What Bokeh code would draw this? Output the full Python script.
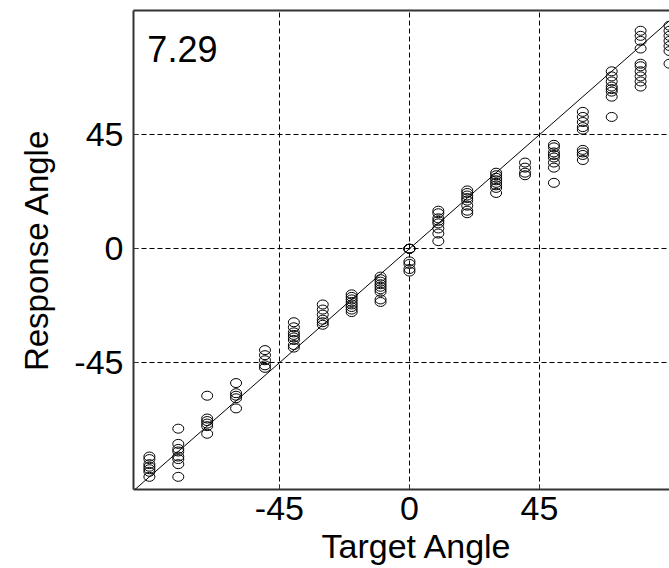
from bokeh.plotting import figure
from bokeh.models import Range1d, FixedTicker, LinearAxis, Label, Slope, ColumnDataSource, Title
from bokeh.embed import file_html
from bokeh.resources import INLINE

# ---- data ----
targets = [-90, -80, -70, -60, -50, -40, -30, -20, -10, 0, 10, 20, 30, 40, 50, 60, 70, 80, 90]
resp_m90 = [-82, -83, -85, -86, -87, -88, -90]
resp_m80 = [-71, -77, -79, -80, -82, -83, -85, -90]
resp_m70 = [-58, -67, -68, -69, -70, -73]
resp_m60 = [-53, -57, -58, -59, -63]
resp_m50 = [-40, -42, -44, -46, -47]
resp_m40 = [-29, -31, -33, -34, -35, -36, -38, -39]
resp_m30 = [-22, -24, -26, -28, -29, -30]
resp_m20 = [-18, -19, -20, -21, -22, -23, -24, -25]
resp_m10 = [-11, -12, -13, -14, -15, -16, -17, -20, -21]
resp_0 = [0, 0, 0, 0, -5, -6, -8, -9]
resp_p10 = [15, 14, 12, 11, 10, 8, 6, 3]
resp_p20 = [23, 22, 21, 20, 19, 17, 15, 14]
resp_p30 = [30, 29, 28, 27, 26, 25, 24, 22]
resp_p40 = [34, 32, 30, 29]
resp_p50 = [41, 40, 38, 37, 36, 34, 32, 26]
resp_p60 = [54, 52, 50, 48, 47, 39, 38, 37, 35]
resp_p70 = [70, 68, 66, 64, 63, 62, 60, 52]
resp_p80 = [86, 84, 82, 79, 73, 72, 70, 68, 66, 64]
resp_p90 = [88, 86, 84, 82, 80, 78, 73]
tick_values = [-45, 0, 45]
tick_labels = ["-45", "0", "45"]
score_text = "7.29"
x_title = "Target Angle"
y_title = "Response Angle"

responses = [resp_m90, resp_m80, resp_m70, resp_m60, resp_m50, resp_m40, resp_m30,
             resp_m20, resp_m10, resp_0, resp_p10, resp_p20, resp_p30, resp_p40,
             resp_p50, resp_p60, resp_p70, resp_p80, resp_p90]

xs, ys = [], []
for t, r in zip(targets, responses):
    xs += [t] * len(r)
    ys += r
src = ColumnDataSource(dict(x=xs, y=ys))

FONT = "Liberation Sans"
AX = "#333333"

p = figure(width=669, height=568, output_backend="svg", toolbar_location=None,
           x_range=Range1d(-95.5, 90), y_range=Range1d(-95, 94),
           min_border_left=133, min_border_right=0, min_border_top=10, min_border_bottom=79,
           y_axis_label=y_title)
p.outline_line_color = None
p.background_fill_color = "white"
p.border_fill_color = "white"

for ax in (p.xaxis[0], p.yaxis[0]):
    ax.ticker = FixedTicker(ticks=tick_values)
    ax.major_label_overrides = {v: s for v, s in zip(tick_values, tick_labels)}
    ax.major_tick_in = 5
    ax.major_tick_out = 0
    ax.minor_tick_line_color = None
    ax.axis_line_width = 2
    ax.axis_line_color = AX
    ax.major_tick_line_color = AX
    ax.major_tick_line_width = 1
    ax.major_label_text_font = FONT
    ax.major_label_text_font_size = "34px"
    ax.major_label_text_color = "black"
    ax.axis_label_text_font = FONT
    ax.axis_label_text_font_size = "33px"
    ax.axis_label_text_font_style = "normal"
    ax.axis_label_text_color = "black"

p.xaxis[0].major_label_standoff = 7
p.yaxis[0].major_label_standoff = 10
p.yaxis[0].axis_label_standoff = 16

top = LinearAxis(ticker=FixedTicker(ticks=[]), major_label_text_font_size="0px",
                 major_tick_in=0, major_tick_out=0, minor_tick_line_color=None,
                 axis_line_width=2, axis_line_color=AX)
p.add_layout(top, "above")

for g in (p.xgrid[0], p.ygrid[0]):
    g.ticker = FixedTicker(ticks=tick_values)
    g.grid_line_color = "black"
    g.grid_line_width = 1
    g.grid_line_dash = "5 3"

p.add_layout(Slope(gradient=1, y_intercept=0, line_color="black", line_width=1))

p.ellipse(x="x", y="y", width=11, height=9, width_units="screen", height_units="screen",
          fill_color=None, line_color="black", line_width=1, source=src)

p.add_layout(Label(x=-90.7, y=78.9, text=score_text, text_font=FONT,
                   text_font_size="36px", text_color="black", text_baseline="alphabetic"))

xt = Title(text=x_title, align="left", offset=188, standoff=4, text_line_height=0.8,
           text_font=FONT, text_font_size="34px", text_font_style="normal", text_color="black")
p.add_layout(xt, "below")

open("out.html", "w").write(file_html(p, INLINE))
